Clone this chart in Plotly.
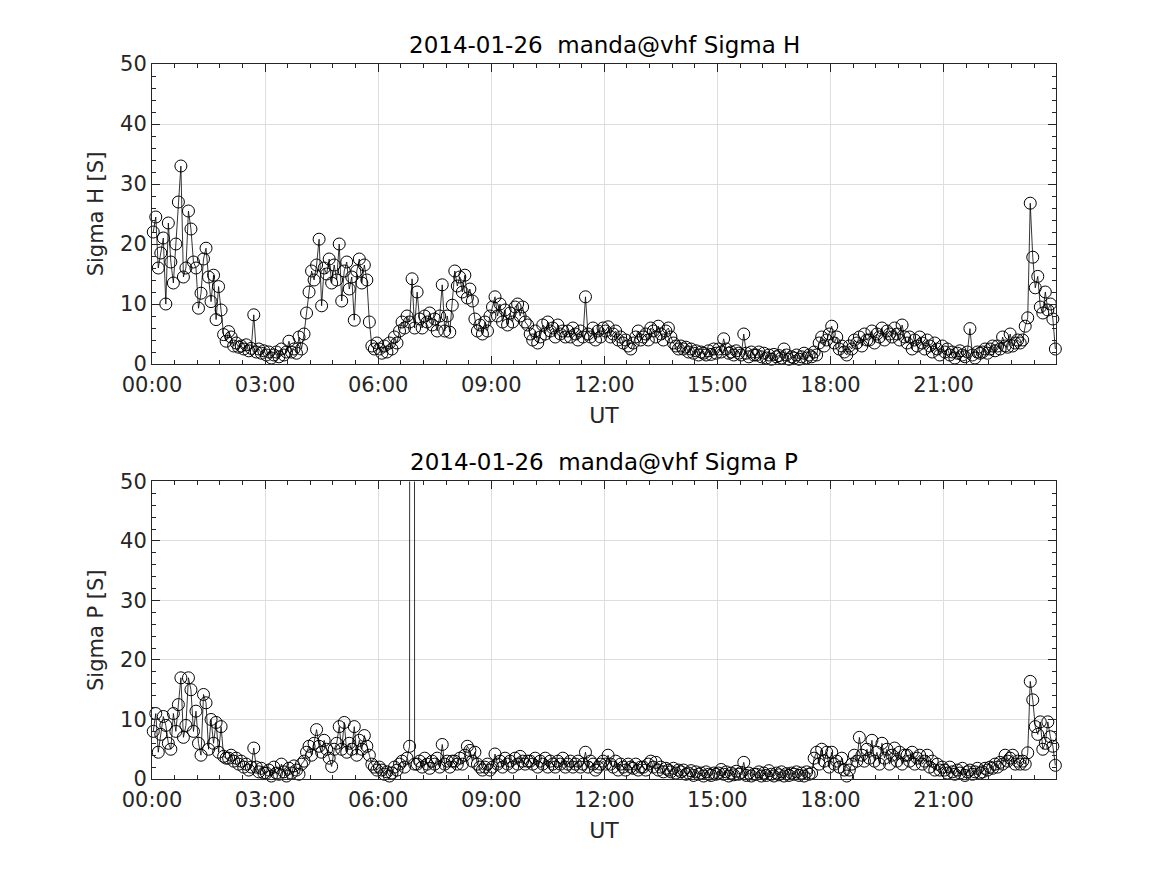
import pandas as pd
import plotly.graph_objects as go

# ---------------- data (4-minute samples) ----------------
start_time = "2014-01-26 00:02"
n_samples = 360
sample_step = "4min"

sigma_h = [
    22, 24.5, 16, 18.5, 21, 10, 23.5, 17, 13.5, 20, 27, 33, 14.5, 16, 25.5,          # 00
    22.5, 17, 16, 9.3, 11.8, 17.5, 19.3, 14.5, 10.4, 14.8, 7.4, 12.9, 9, 4.9, 3.8,    # 01
    5.4, 4.5, 3, 3.5, 2.8, 3, 2.5, 3.2, 2.2, 2.6, 8.2, 2, 2.5, 1.8, 2.2,              # 02
    1.5, 2, 1, 1.5, 2, 1.2, 2.5, 1.5, 2, 3.8, 2, 2.5, 1.8, 4.5, 2.5,                  # 03
    5, 8.5, 12, 15.5, 14, 16.5, 20.8, 9.7, 16, 15, 17.5, 13.5, 16.5, 14, 20,          # 04
    10.5, 15.5, 17, 12.5, 14.5, 7.3, 15.5, 17.5, 13.5, 16.5, 14, 7, 3, 2.5, 3.5,      # 05
    2.5, 1.8, 3, 2, 3.5, 2.5, 4.5, 3.5, 5.5, 7, 6, 8, 7, 14.2, 6,                     # 06
    12, 7.5, 6, 8, 7, 8.5, 6.5, 7.5, 5.5, 8, 13.2, 5.5, 8, 5.3, 9.8,                  # 07
    15.5, 13, 14.5, 12, 14.8, 11, 12.5, 10.5, 7.5, 5.5, 6.5, 5, 7, 5.5, 8,            # 08
    9.5, 11.2, 8, 10, 7, 9, 6.5, 8.5, 7, 9.5, 10, 8, 9.5, 7, 6.5,                     # 09
    5, 4, 5.5, 3.5, 4.5, 6.5, 5, 7, 5.5, 6, 4.5, 6.5, 5, 5.5, 4.5,                    # 10
    5.5, 4.5, 6, 5, 4, 5.5, 4.5, 11.2, 5, 4.5, 6, 4, 5.5, 4.5, 6,                     # 11
    5.5, 6.2, 4.5, 5, 5.5, 4, 4.5, 3.5, 4, 3, 2.5, 3.5, 4.5, 5.5, 4,                  # 12
    4.5, 5, 4, 6, 5.5, 4.5, 6.3, 5, 4, 5.5, 6, 4.5, 3.5, 3, 2.5,                      # 13
    3, 2.5, 2.8, 2, 2.5, 1.8, 2.2, 1.5, 2, 1.8, 1.5, 2.2, 1.6, 2.5, 1.8,              # 14
    2.5, 2, 4.2, 2.5, 1.8, 2, 1.5, 2.2, 1.8, 1.5, 5, 1.8, 1.2, 2, 1.5,                # 15
    1.5, 2, 1.2, 1.8, 1, 1.5, 0.8, 1.6, 1.2, 1.4, 1, 2.5, 1.5, 0.8, 1.2,              # 16
    1, 1.5, 0.8, 1.2, 1.8, 1, 1.5, 1.2, 2, 1.5, 3.5, 4.5, 3, 4, 5,                    # 17
    6.3, 3.5, 4.5, 2.5, 3, 2, 1.5, 3, 2.5, 4, 3.5, 4.5, 3, 5, 4,                      # 18
    4, 5.5, 3.5, 5, 4.5, 6, 4, 5.5, 5, 4.5, 6, 5, 4, 6.5, 4.5,                        # 19
    3.5, 4.5, 2.5, 4, 3, 4.5, 3.5, 2.5, 4, 3, 2, 3.5, 2.5, 1.5, 3,                    # 20
    2, 2.5, 1.5, 2, 1, 1.8, 2.2, 1.5, 1.2, 2, 5.9, 1.5, 1, 2, 1.8,                    # 21
    2, 2.5, 1.8, 2.5, 3, 2.2, 3, 2.5, 4.5, 3, 2.8, 5, 3, 3.5, 4,                      # 22
    3.5, 4, 6.3, 7.7, 26.8, 17.8, 12.7, 14.6, 9.5, 8.5, 12, 9, 10, 7.5, 2.5,          # 23
]

sigma_p = [
    8, 11, 4.5, 7.5, 10.5, 9, 6, 5, 11, 8, 12.5, 17, 7, 9, 17,                        # 00
    15, 8, 11.4, 6, 4, 14.2, 12.8, 5, 10, 6, 9.5, 4.5, 8.8, 3.8, 3.5,                 # 01
    3.5, 4, 3, 3.5, 2.5, 3, 2, 2.5, 1.5, 2, 5.2, 2, 1.2, 1.8, 1,                      # 02
    1, 1.5, 0.5, 2, 1, 0.8, 2.5, 1.2, 0.5, 1.8, 1, 2.2, 1.5, 0.8, 2.5,                # 03
    3, 4.5, 5.5, 4, 6, 8.3, 5.5, 4.5, 6.5, 5, 3.5, 2.1, 5, 6, 8.8,                    # 04
    5, 9.5, 4.5, 6, 5, 8.8, 4, 6.5, 5, 7.3, 5.5, 4, 2.5, 2, 1.5,                      # 05
    2, 1.5, 0.8, 1.2, 0.5, 1, 2, 1.5, 2.5, 3, 2, 3.5, 5.5, 1500, 2.5,                 # 06
    2.5, 3, 2, 3.5, 2.5, 1.8, 3, 2.5, 3.5, 2, 5.8, 2.5, 3, 2, 3,                      # 07
    3, 2.5, 3.5, 2.5, 4, 5.5, 4.8, 3, 4.5, 2.5, 2, 1.5, 2, 2.5, 1.5,                  # 08
    2, 4.2, 2.5, 3, 2, 3.5, 2.5, 3, 2, 3.5, 2.5, 3.8, 3, 2.5, 3,                      # 09
    3, 2.5, 3.5, 2, 3, 2.5, 3.5, 2, 3, 2.5, 2, 3, 2.5, 3.5, 2,                        # 10
    2.5, 3, 2, 2.5, 3, 2, 2.5, 4.5, 2, 3, 2.5, 1.5, 2, 2.5, 3,                        # 11
    2.5, 4, 2.5, 2, 3, 1.5, 2.5, 2, 1.5, 2.5, 2, 1.8, 2.5, 1.5, 2,                    # 12
    2, 1.5, 2.5, 3, 2, 2.8, 1.5, 2, 1.2, 1.8, 1.5, 1.2, 1.8, 1, 1.5,                  # 13
    1.2, 1.5, 0.8, 1, 1.4, 0.6, 1.2, 0.8, 1, 0.5, 1.2, 0.8, 0.6, 1, 0.8,              # 14
    1, 1.6, 0.8, 1.2, 0.5, 1, 0.7, 1.3, 0.8, 1.1, 2.8, 0.6, 1, 0.5, 0.8,              # 15
    0.8, 1.2, 0.5, 1, 0.6, 1.4, 0.8, 0.5, 1, 0.7, 1.2, 0.5, 0.9, 0.6, 1,              # 16
    0.8, 1.2, 0.6, 1, 0.5, 1.2, 0.8, 1, 3.5, 4.5, 2.5, 5, 3, 4.5, 2,                  # 17
    4.5, 2.5, 3, 2, 3.5, 1.5, 0.5, 1.5, 2.5, 4, 3, 7, 4, 3, 5,                        # 18
    3.5, 6.5, 3, 4.5, 2.5, 6, 3.5, 5, 2.5, 4, 5.2, 3, 4.5, 2.5, 4,                    # 19
    4, 3, 4.5, 2.5, 3.5, 4, 2.5, 3, 4, 2, 3, 1.5, 2.5, 1.5, 2,                        # 20
    1.5, 1, 2, 1.2, 0.8, 1.5, 1, 1.8, 0.6, 1.2, 1.5, 0.8, 1.2, 1.8, 1,                # 21
    1.2, 1.8, 1.5, 2, 1.8, 2.5, 2, 2.8, 2.5, 4, 3, 3.5, 4, 2.5, 3,                    # 22
    2.5, 3, 2.5, 4.4, 16.4, 13.3, 8.8, 7.5, 9.6, 5, 6, 9.6, 7.1, 5.5, 2.3,            # 23
]

titles = ["2014-01-26\u00a0 manda@vhf Sigma H", "2014-01-26\u00a0 manda@vhf Sigma P"]
ylabels = ["Sigma H [S]", "Sigma P [S]"]
xlabel = "UT"
y_range = [0, 50]

times = pd.date_range(start_time, periods=n_samples, freq=sample_step)

# ---------------- figure ----------------
FONT = "DejaVu Sans"
AX = "#262626"
GRID = "#dedede"
W, H = 1167, 875
L, R, T, B = 152, W - 1056.3, 64.3, H - 779.3
inner_h = H - T - B
y_doms = [[1 - (364.3 - T) / inner_h, 1.0],
          [0.0, 1 - (481.7 - T) / inner_h]]

fig = go.Figure()
for k, series in enumerate([sigma_h, sigma_p]):
    xa = "x" if k == 0 else "x2"
    ya = "y" if k == 0 else "y2"
    fig.add_trace(go.Scatter(
        x=times, y=series, mode="lines", xaxis=xa, yaxis=ya,
        line=dict(color="black", width=0.8), hoverinfo="skip", showlegend=False))
    visible = [v if y_range[0] <= v <= y_range[1] else None for v in series]
    fig.add_trace(go.Scatter(
        x=times, y=visible, mode="markers", xaxis=xa, yaxis=ya, cliponaxis=False,
        marker=dict(symbol="circle-open", size=12, color="black",
                    line=dict(width=1, color="black")),
        showlegend=False))

axis_common = dict(
    showline=True, linecolor=AX, linewidth=1, mirror="ticks",
    ticks="inside", ticklen=8, tickwidth=1, tickcolor=AX,
    showgrid=True, gridcolor=GRID, gridwidth=1, zeroline=False, automargin=False,
    tickfont=dict(family=FONT, size=21, color=AX),
)

layout = dict(
    width=W, height=H, margin=dict(l=L, r=R, t=T, b=B, autoexpand=False),
    paper_bgcolor="white", plot_bgcolor="white",
    font=dict(family=FONT, color=AX),
    showlegend=False,
    annotations=[],
)
for k in range(2):
    xs = "xaxis" if k == 0 else "xaxis2"
    ys = "yaxis" if k == 0 else "yaxis2"
    layout[xs] = dict(
        axis_common, domain=[0, 1], anchor="y" if k == 0 else "y2",
        type="date", range=["2014-01-26 00:00:00", "2014-01-26 23:59:00"],
        tick0="2014-01-26 00:00:00", dtick=3 * 3600 * 1000, tickformat="%H:%M",
        ticklabelstandoff=2,
        minor=dict(dtick=36 * 60 * 1000, ticks="inside", ticklen=4, tickcolor=AX,
                   showgrid=False),
        title=dict(text=xlabel, font=dict(family=FONT, size=22, color=AX), standoff=11),
    )
    layout[ys] = dict(
        axis_common, domain=y_doms[k], anchor="x" if k == 0 else "x2",
        range=y_range, tick0=0, dtick=10,
        minor=dict(dtick=2, ticks="inside", ticklen=4, tickcolor=AX, showgrid=False),
        title=dict(text=ylabels[k], font=dict(family=FONT, size=21, color=AX), standoff=10),
    )
    layout["annotations"].append(dict(
        text=titles[k], xref="paper", yref="paper",
        x=0.5, y=y_doms[k][1], yshift=4,
        xanchor="center", yanchor="bottom", showarrow=False,
        font=dict(family=FONT, size=23, color="black")))

fig.update_layout(**layout)
fig.write_html("out.html", config={"displayModeBar": False},
               post_script="document.body.style.margin='0';document.body.style.overflow='hidden';")
